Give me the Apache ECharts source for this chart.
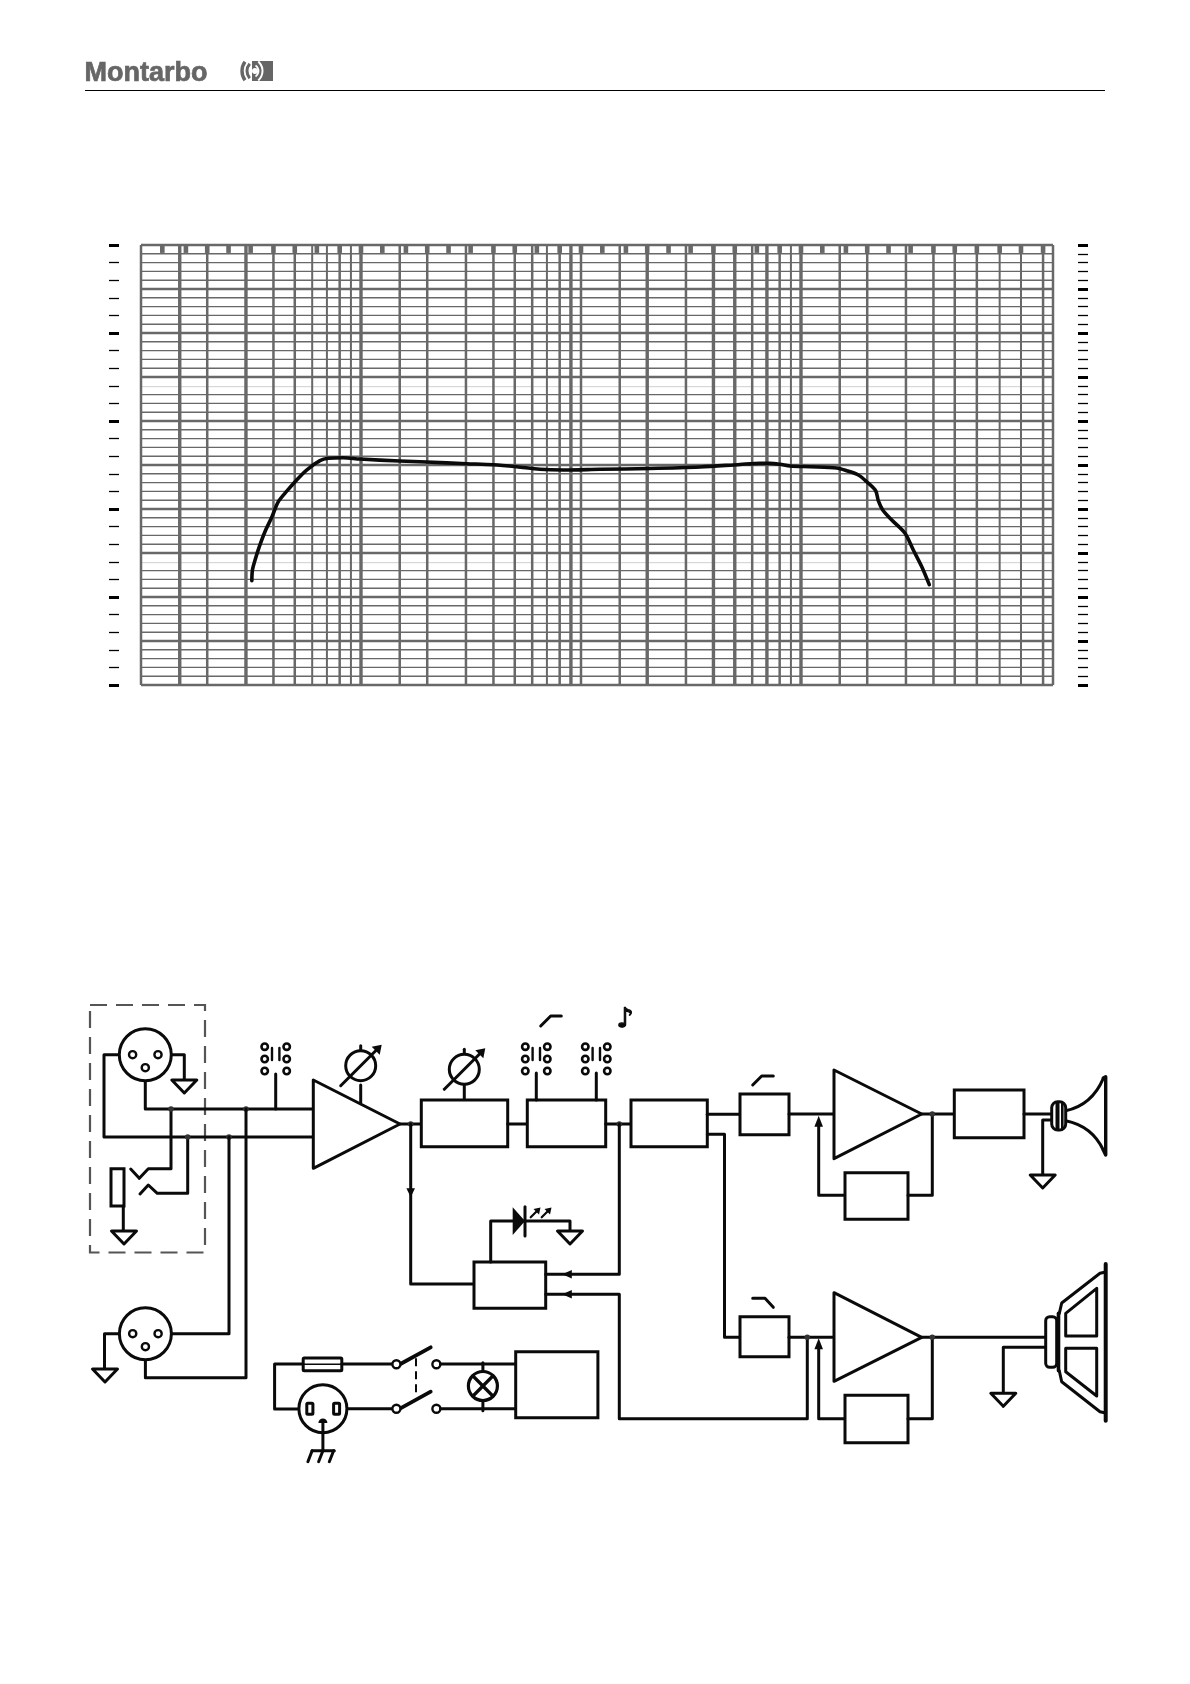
<!DOCTYPE html>
<html lang="en" style="height: 100%">

<head>
  <meta charset="utf-8">
  <style>
    html,
    body {
      margin: 0;
      padding: 0;
      width: 100%;
      height: 100%;
      overflow: hidden;
      background: #fff;
    }
  </style>
  <script type="text/javascript" src="https://cdn.jsdelivr.net/npm/echarts@6/dist/echarts.min.js"></script>
</head>

<body>
  <div id="container" style="height: 1684px;width: 1190px;"></div>

  <script type="text/javascript">
    // response curve
    const curveFreq = [31.9, 32.1, 33, 34.5, 36.6, 39.3, 42.1, 46.2, 51, 56.6, 65.1, 71, 83.1, 99, 150, 199, 302, 400, 510, 651, 831, 1220, 2060, 3475, 5280, 6510, 7230, 8030, 8910, 10990, 14530, 16130, 18220, 19890, 21850, 22460, 23520, 25850, 29700, 32400, 35400, 38300];
    const curveDb = [11.85, 13.07, 14.2, 15.72, 17.42, 19.06, 20.83, 22.08, 23.3, 24.43, 25.49, 25.76, 25.83, 25.68, 25.45, 25.34, 25.15, 25.03, 24.8, 24.51, 24.43, 24.51, 24.6, 24.77, 25.06, 25.19, 25.19, 25.08, 24.89, 24.8, 24.66, 24.35, 23.86, 23.1, 22.08, 20.94, 19.89, 18.75, 17.24, 15.34, 13.44, 11.4];

    // vertical rulings of the paper, by weight
    const freqHeavy = [15, 30, 100, 900, 2000, 4000, 5000, 7000, 10000];
    const freqMedium = [20, 40, 50, 80, 150, 200, 300, 400, 500, 600, 800, 1000, 1500, 3000, 6000, 8000, 15000, 20000, 30000, 40000, 50000, 63000, 126000];
    const freqLight = [60, 70, 90, 700, 9000, 80000, 100000];
    // horizontal rulings
    const dbMajor = [5, 10, 15, 20, 25, 30, 35, 40, 45];
    const dbMinor = [1, 2, 3, 4, 6, 7, 8, 9, 11, 12, 13, 16, 17, 18, 19, 21, 22, 23, 24, 26, 27, 28, 29, 31, 32, 33, 36, 37, 38, 39, 41, 42, 43, 44, 46, 47, 48, 49];
    const dbFaint = [13.9, 33.9];
    // third octave marks along the top edge
    const thirdOctave = [12.5, 16, 20, 25, 31.5, 40, 50, 63, 80, 100, 125, 160, 200, 250, 315, 400, 500, 630, 800, 1000, 1250, 1600, 2000, 2500, 3150, 4000, 5000, 6300, 8000, 10000, 12500, 16000, 20000, 25000, 31500, 40000, 50000, 63000, 80000, 100000, 126000];

    const freqMin = 10;
    const freqMax = 139800;
    const dbMin = 0;
    const dbMax = 50;
    const rulingColor = '#686868';

    // one item per ruling / mark, drawn by the custom series below
    let rulings = [];
    dbMinor.forEach((d) => rulings.push({ kind: 'h', at: d, w: 1.4, c: rulingColor }));
    dbFaint.forEach((d) => rulings.push({ kind: 'h', at: d, w: 1, c: '#d0d0d0' }));
    dbMajor.forEach((d) => rulings.push({ kind: 'h', at: d, w: 2.4, c: rulingColor }));
    freqLight.forEach((f) => rulings.push({ kind: 'v', at: f, w: 2, c: rulingColor }));
    freqMedium.forEach((f) => rulings.push({ kind: 'v', at: f, w: 2.5, c: rulingColor }));
    freqHeavy.forEach((f) => rulings.push({ kind: 'v', at: f, w: 3.4, c: rulingColor }));
    [dbMin, dbMax].forEach((d) => rulings.push({ kind: 'h', at: d, w: 2.5, c: rulingColor }));
    [freqMin, freqMax].forEach((f) => rulings.push({ kind: 'v', at: f, w: 2.5, c: rulingColor }));
    thirdOctave.forEach((f) => rulings.push({ kind: 'mark', at: f, w: 4.6, c: rulingColor }));

    function renderRuling(params, api) {
      const r = rulings[params.dataIndex];
      let a, b;
      if (r.kind === 'h') {
        a = api.coord([freqMin, r.at]);
        b = api.coord([freqMax, r.at]);
      } else if (r.kind === 'v') {
        a = api.coord([r.at, dbMin]);
        b = api.coord([r.at, dbMax]);
      } else {
        a = api.coord([r.at, dbMax]);
        b = api.coord([r.at, dbMax - 0.9]);
      }
      return {
        type: 'line',
        shape: { x1: a[0], y1: a[1], x2: b[0], y2: b[1] },
        style: { stroke: r.c, lineWidth: r.w },
        silent: true
      };
    }

    // ---- page header + block diagram helpers ----
    const ink = '#0a0a0a';
    const wire = (points, w) => ({ type: 'polyline', shape: { points: points }, style: { fill: null, stroke: ink, lineWidth: w || 3, lineJoin: 'round', lineCap: 'round' }, silent: true });
    const box = (x1, y1, x2, y2, r) => ({ type: 'rect', shape: { x: x1, y: y1, width: x2 - x1, height: y2 - y1, r: r || 0 }, style: { fill: '#fff', stroke: ink, lineWidth: 3 }, silent: true });
    const poly = (points, fill, w) => ({ type: 'polygon', shape: { points: points }, style: { fill: fill || '#fff', stroke: ink, lineWidth: w === undefined ? 3 : w, lineJoin: 'round' }, silent: true });
    const ring = (cx, cy, r, w) => ({ type: 'circle', shape: { cx: cx, cy: cy, r: r }, style: { fill: '#fff', stroke: ink, lineWidth: w || 3 }, silent: true });
    const dot = (cx, cy) => ({ type: 'circle', shape: { cx: cx, cy: cy, r: 2.8 }, style: { fill: '#333' }, silent: true });
    const curve = (x1, y1, cx, cy, x2, y2) => ({ type: 'bezierCurve', shape: { x1: x1, y1: y1, cpx1: cx, cpy1: cy, x2: x2, y2: y2 }, style: { fill: null, stroke: ink, lineWidth: 3 }, silent: true });
    const ground = (x, y) => poly([[x - 12.5, y], [x + 12.5, y], [x, y + 13]]);
    const arrowDown = (x, y) => poly([[x - 4.3, y - 9], [x + 4.3, y - 9], [x, y]], ink, 0);
    const arrowUp = (x, y) => poly([[x - 4.3, y + 11], [x + 4.3, y + 11], [x, y]], ink, 0);
    const arrowLeft = (x, y) => poly([[x + 9.5, y - 4.3], [x + 9.5, y + 4.3], [x, y]], ink, 0);
    const logoArc = (cx, r, half, w, color) => ({ type: 'arc', shape: { cx: cx, cy: 71, r: r, startAngle: half, endAngle: -half, clockwise: false }, style: { fill: null, stroke: color, lineWidth: w }, silent: true });
    const logoArcLeft = (cx, r, half, w) => ({ type: 'arc', shape: { cx: cx, cy: 71, r: r, startAngle: Math.PI - half, endAngle: Math.PI + half, clockwise: true }, style: { fill: null, stroke: '#666', lineWidth: w }, silent: true });

    const xlr = (cx, cy) => [
      ring(cx, cy, 26),
      ring(cx - 12.7, cy, 3.6, 2.4),
      ring(cx + 12.7, cy, 3.6, 2.4),
      ring(cx, cy + 13, 3.6, 2.4)
    ];
    const selector = (x, stem1, stem2) => [
      ring(x, 1046.7, 3.2, 2.6), ring(x, 1059, 3.2, 2.6), ring(x, 1071, 3.2, 2.6),
      ring(x + 22, 1046.7, 3.2, 2.6), ring(x + 22, 1059, 3.2, 2.6), ring(x + 22, 1071, 3.2, 2.6),
      wire([[x + 7.3, 1048], [x + 7.3, 1060]], 2.4),
      wire([[x + 14.7, 1048], [x + 14.7, 1060]], 2.4),
      wire([[x + 11, stem1], [x + 11, stem2]])
    ];
    const pot = (cx, cy) => [
      wire([[cx, cy - 20], [cx, cy - 14]]),
      ring(cx, cy, 15),
      wire([[cx - 20, cy + 20], [cx + 18, cy - 18]]),
      poly([[cx + 21, cy - 21], [cx + 11, cy - 19], [cx + 19, cy - 11]], ink, 0)
    ];

    const elements = [
      // header
      { type: 'text', style: { text: 'Montarbo', x: 84.5, y: 60.5, fill: '#666', stroke: '#666', lineWidth: 0.7, font: 'bold 27px "Liberation Sans"', textVerticalAlign: 'top' }, silent: true },
      { type: 'rect', shape: { x: 252, y: 61, width: 21, height: 20 }, style: { fill: '#666' }, silent: true },
      logoArcLeft(258, 16, 0.62, 3.4),
      logoArcLeft(258, 11, 0.72, 3),
      { type: 'circle', shape: { cx: 255, cy: 71, r: 3 }, style: { fill: '#fff' }, silent: true },
      logoArc(252, 6.5, 1, 1.8, '#fff'),
      logoArc(250, 12.5, 0.85, 2, '#fff'),
      { type: 'line', shape: { x1: 85, y1: 90.5, x2: 1105, y2: 90.5 }, style: { stroke: '#000', lineWidth: 1 }, silent: true },

      // input section
      { type: 'rect', shape: { x: 90, y: 1005, width: 115, height: 247.5 }, style: { fill: null, stroke: '#555', lineWidth: 2.2, lineDash: [17, 9] }, silent: true },
      wire([[119, 1054.7], [104, 1054.7], [104, 1137], [313, 1137]]),
      wire([[162, 1054.7], [184.3, 1054.7], [184.3, 1080]]),
      ground(184.3, 1080),
      wire([[145.3, 1071], [145.3, 1109], [313, 1109]]),
      ...xlr(145.3, 1054.7),
      wire([[171, 1109], [171, 1168.7], [148.3, 1168.7], [139.3, 1178.3], [130.7, 1169]]),
      wire([[187.7, 1137], [187.7, 1193.3], [157.3, 1193.3], [148.3, 1185], [140, 1194]]),
      box(111, 1168.7, 124, 1206),
      wire([[123.3, 1206], [123.3, 1231]]),
      ground(124, 1231),
      dot(171, 1109), dot(246, 1109), dot(187.7, 1137), dot(229, 1137),
      ...selector(264.7, 1074, 1109),
      wire([[229, 1137], [229, 1333.7], [162, 1333.7]]),
      wire([[246, 1109], [246, 1377.7], [145.4, 1377.7], [145.4, 1350]]),
      wire([[120, 1333.7], [104.5, 1333.7], [104.5, 1369]]),
      ground(105, 1369),
      ...xlr(145.4, 1333.7),

      // preamp
      wire([[360.7, 1085], [360.7, 1102.7]]),
      ...pot(360.7, 1065.7),
      poly([[313.3, 1080], [313.3, 1168.3], [400, 1124]]),
      wire([[400, 1124], [421.3, 1124]]),
      dot(410.7, 1124),
      wire([[410.7, 1124], [410.7, 1284], [474, 1284]]),
      arrowDown(410.7, 1197.3),

      // tone section
      wire([[464.3, 1084], [464.3, 1100]]),
      ...pot(464.3, 1069.3),
      box(421.3, 1100, 507.7, 1146.7),
      wire([[507.7, 1124], [527.3, 1124]]),
      box(527.3, 1100, 605.7, 1146.7),
      ...selector(525.3, 1073, 1100),
      ...selector(585.3, 1073, 1100),
      wire([[540.7, 1026], [550.7, 1016], [561.3, 1016]]),
      { type: 'text', style: { text: '\u266a', x: 625, y: 1020, fill: ink, stroke: ink, lineWidth: 1.2, font: 'bold 27px "DejaVu Sans"', textAlign: 'center', textVerticalAlign: 'middle' }, silent: true },
      wire([[605.7, 1124], [631, 1124]]),
      dot(619.3, 1124),
      box(631, 1100, 707.3, 1146.7),

      // limiter + led
      box(474, 1262, 545.7, 1308.3),
      wire([[490.7, 1262], [490.7, 1221], [570, 1221], [570, 1231]]),
      ground(570, 1231),
      poly([[512.7, 1207.3], [512.7, 1235], [525, 1221]], ink, 0),
      wire([[525, 1206.7], [525, 1236]]),
      wire([[530.7, 1217.3], [538, 1210]], 2.2), poly([[540.5, 1207.5], [533.5, 1209], [539, 1214.5]], ink, 0),
      wire([[541.7, 1217.3], [549, 1210]], 2.2), poly([[551.5, 1207.5], [544.5, 1209], [550, 1214.5]], ink, 0),
      wire([[545.7, 1274.3], [619.3, 1274.3], [619.3, 1124]]),
      arrowLeft(562.3, 1274.3),
      wire([[545.7, 1294.3], [619.3, 1294.3], [619.3, 1418.7], [807.3, 1418.7], [807.3, 1337.3]]),
      arrowLeft(562.3, 1294.3),

      // high way
      wire([[707.3, 1114.3], [740, 1114.3]]),
      wire([[707.3, 1134.3], [724.5, 1134.3], [724.5, 1337.3], [740, 1337.3]]),
      box(740, 1094, 789, 1134.7),
      wire([[752.7, 1085], [761.7, 1076], [773.3, 1076]]),
      wire([[789, 1114], [834, 1114]]),
      wire([[818.7, 1126], [818.7, 1195.3], [845, 1195.3]]),
      arrowUp(818.7, 1115.7),
      box(845, 1172.7, 908, 1219.3),
      wire([[908, 1195.3], [932.3, 1195.3], [932.3, 1114]]),
      poly([[834, 1070], [834, 1158.7], [921.7, 1114]]),
      wire([[921.7, 1114], [954.3, 1114]]),
      dot(932.3, 1114),
      box(954.3, 1090, 1024, 1137.7),
      wire([[1024, 1114], [1052, 1114]]),
      wire([[1052, 1120], [1042.7, 1120], [1042.7, 1175]]),
      ground(1042.7, 1175),
      curve(1065.7, 1110.7, 1092, 1105, 1103.3, 1078.3),
      curve(1065.7, 1120.7, 1092, 1126, 1103.3, 1150),
      box(1051.7, 1101.7, 1065.7, 1130, 6),
      { type: 'rect', shape: { x: 1055.5, y: 1102, width: 4, height: 28 }, style: { fill: ink }, silent: true },
      { type: 'rect', shape: { x: 1061, y: 1102, width: 2.6, height: 28 }, style: { fill: ink }, silent: true },
      wire([[1103.3, 1078], [1105.7, 1076.7], [1105.7, 1155], [1103.3, 1150]], 3.4),

      // low way
      box(740, 1316.7, 789, 1356.7),
      wire([[752.7, 1298.3], [765, 1298.3], [773.3, 1307.3]]),
      wire([[789, 1337.3], [834, 1337.3]]),
      dot(807.3, 1337.3),
      wire([[818.7, 1349], [818.7, 1418.7], [845, 1418.7]]),
      arrowUp(818.7, 1338.3),
      box(845, 1395.3, 908, 1442.7),
      wire([[908, 1418.7], [932.3, 1418.7], [932.3, 1337.3]]),
      poly([[834, 1292.7], [834, 1381.3], [921.7, 1337.3]]),
      wire([[921.7, 1337.3], [1045, 1337.3]]),
      dot(932.3, 1337.3),
      wire([[1045, 1347.3], [1003.3, 1347.3], [1003.3, 1393.3]]),
      ground(1003.3, 1393.3),
      box(1045.7, 1316.7, 1056.7, 1367.3, 4),
      wire([[1058.5, 1313.3], [1058.5, 1370.7]], 3.6),
      wire([[1059.3, 1313.3], [1061.7, 1303], [1100, 1273.3], [1105.7, 1272]]),
      wire([[1059.3, 1370.7], [1061.7, 1381.7], [1100, 1411.7], [1105.7, 1413]]),
      wire([[1105.7, 1264], [1105.7, 1420.7]], 4),
      poly([[1065.7, 1313.3], [1096.7, 1288.3], [1096.7, 1336], [1065.7, 1336]]),
      poly([[1065.7, 1348.3], [1096.7, 1348.3], [1096.7, 1396], [1065.7, 1371.7]]),

      // mains
      wire([[303, 1364], [274.6, 1364], [274.6, 1409], [298.6, 1409]]),
      box(303.2, 1358, 341.8, 1370.7, 1),
      wire([[303.2, 1364.3], [341.8, 1364.3]], 1.6),
      wire([[341.8, 1364], [392.5, 1364]]),
      wire([[400.4, 1364], [430.7, 1347.3]], 3.8),
      ring(396.4, 1364.3, 4, 2.4),
      ring(436.4, 1364.3, 4, 2.4),
      wire([[440.5, 1364], [515.7, 1364]]),
      wire([[347, 1408.7], [392.5, 1408.7]]),
      wire([[400.4, 1408.3], [430.7, 1391.7]], 3.8),
      ring(396.4, 1408.7, 4, 2.4),
      ring(436.4, 1408.7, 4, 2.4),
      wire([[440.5, 1408.7], [515.7, 1408.7]]),
      { type: 'line', shape: { x1: 416, y1: 1358.3, x2: 416, y2: 1395 }, style: { stroke: ink, lineWidth: 2, lineDash: [8, 5] }, silent: true },
      ring(322.9, 1408.7, 24),
      box(306.8, 1403.3, 312.9, 1414.3, 1),
      box(333.6, 1403.3, 339.6, 1414.3, 1),
      { type: 'arc', shape: { cx: 322.9, cy: 1423, r: 3.5, startAngle: Math.PI, endAngle: 0, clockwise: true }, style: { fill: ink, stroke: ink, lineWidth: 2 }, silent: true },
      wire([[322.9, 1421.7], [322.9, 1450.7]]),
      wire([[312, 1450.7], [334.3, 1450.7]]),
      wire([[312.1, 1450.7], [307.9, 1461.7]]),
      wire([[322.9, 1450.7], [318.6, 1461.7]]),
      wire([[333.6, 1450.7], [329.3, 1461.7]]),
      wire([[482.9, 1362.7], [482.9, 1410.7]]),
      ring(482.9, 1386, 14.5, 3.2),
      wire([[473, 1376], [492.8, 1396]], 3.2),
      wire([[492.8, 1376], [473, 1396]], 3.2),
      box(515.7, 1351.7, 597.9, 1417.7)
    ];

    const dom = document.getElementById('container');
    const myChart = echarts.init(dom, null, { renderer: 'canvas', useDirtyRect: false });

    const option = {
      animation: false,
      backgroundColor: '#fff',
      grid: { left: 141, right: 137, top: 245, height: 440, containLabel: false },
      xAxis: {
        type: 'log',
        logBase: 10,
        min: freqMin,
        max: freqMax,
        axisLine: { show: false },
        axisTick: { show: false },
        axisLabel: { show: false },
        splitLine: { show: false },
        minorSplitLine: { show: false }
      },
      yAxis: [
        {
          type: 'value',
          position: 'left',
          offset: 22,
          min: dbMin,
          max: dbMax,
          interval: 10,
          axisLine: { show: false },
          axisLabel: { show: false },
          splitLine: { show: false },
          axisTick: { show: true, length: 10, lineStyle: { color: '#000', width: 3 } },
          minorTick: { show: true, splitNumber: 5, length: 10, lineStyle: { color: '#000', width: 1.3 } }
        },
        {
          type: 'value',
          position: 'right',
          offset: 25,
          min: dbMin,
          max: dbMax,
          interval: 5,
          axisLine: { show: false },
          axisLabel: { show: false },
          splitLine: { show: false },
          axisTick: { show: true, length: 10, lineStyle: { color: '#000', width: 3 } },
          minorTick: { show: true, splitNumber: 5, length: 10, lineStyle: { color: '#000', width: 1.3 } }
        }
      ],
      graphic: { elements: elements },
      series: [
        {
          type: 'custom',
          coordinateSystem: 'cartesian2d',
          clip: false,
          silent: true,
          renderItem: renderRuling,
          data: rulings.map((r) => (r.kind === 'h' ? [freqMin, r.at] : [r.at, dbMin]))
        },
        {
          type: 'line',
          data: curveFreq.map((f, i) => [f, curveDb[i]]),
          showSymbol: false,
          smooth: 0.3,
          silent: true,
          z: 5,
          lineStyle: { color: '#0a0a0a', width: 3.6, cap: 'round', join: 'round' }
        }
      ]
    };

    myChart.setOption(option);
    window.addEventListener('resize', myChart.resize);
  </script>
</body>

</html>
